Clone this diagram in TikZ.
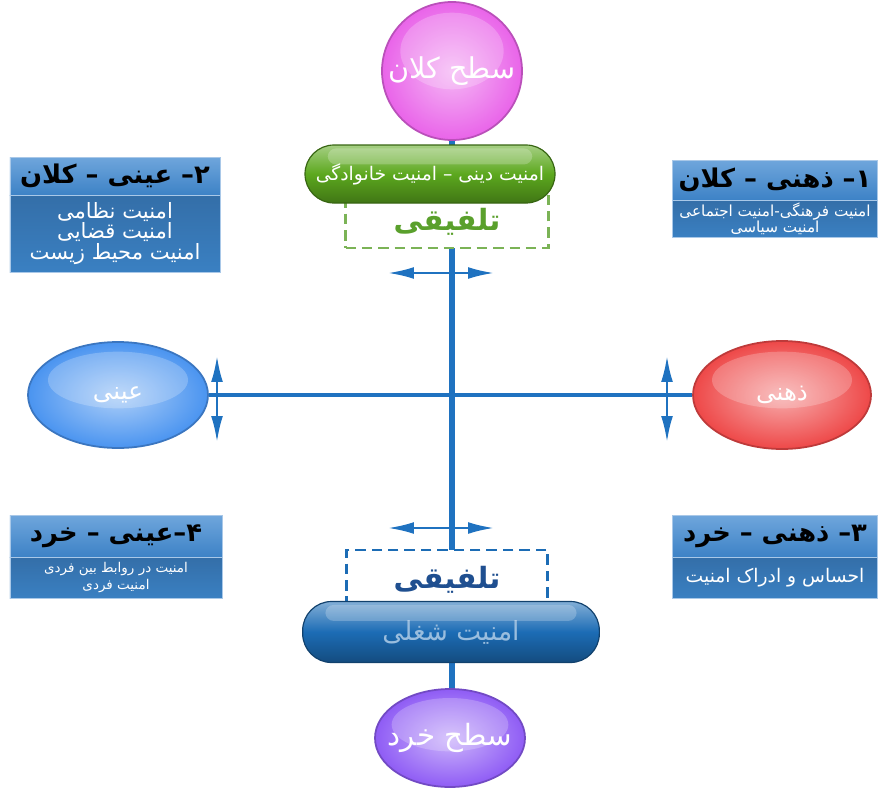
\documentclass[tikz,border=0pt]{standalone}
\usepackage{fontspec}
\usetikzlibrary{arrows.meta,shapes.geometric,positioning,backgrounds}
\newfontfamily\fa[Script=Arabic]{DejaVu Sans}
\TeXXeTstate=1
\newcommand\farsi[1]{\beginR #1\endR}
\definecolor{axisblue}{HTML}{1F72C0}
\definecolor{pinkb}{HTML}{E964E9}
\definecolor{purpleb}{HTML}{8F5CF5}
\definecolor{blueb}{HTML}{4A94F0}
\definecolor{redb}{HTML}{EE4848}
\definecolor{greenp}{HTML}{5CA81E}
\definecolor{bluep}{HTML}{1C6CB5}
\definecolor{greent}{HTML}{5AA02C}
\definecolor{bluet}{HTML}{1F4F90}
\definecolor{boxtop}{HTML}{6FA6DC}
\definecolor{boxmid}{HTML}{3D82C6}
\definecolor{boxlow}{HTML}{3A80C2}
\definecolor{boxedge}{HTML}{A9C8E8}
\begin{document}
\begin{tikzpicture}[x=0.03cm,y=-0.03cm,font=\fa,
  bubble/.style={ellipse,inner sep=0pt,draw=#1!80!black,line width=1.5pt,inner color=#1!45!white,outer color=#1},
  bubbletext/.style={text=white,font=\fa\fontsize{#1}{#1}\selectfont},
  pill/.style={rectangle,rounded corners=0.87cm,draw=#1!60!black,line width=1pt,top color=#1!55!white,bottom color=#1!70!black,middle color=#1,inner sep=0pt},
  fusebox/.style={rectangle,draw=#1,fill=white,line width=2.2pt,dash pattern=on 9pt off 5pt,font=\fa\bfseries\fontsize{25}{30}\selectfont},
  band/.style={rectangle,inner sep=0pt,outer sep=0pt,draw=boxedge,line width=.8pt,top color=boxtop,bottom color=boxmid,font=\fa\bfseries\fontsize{22}{26}\selectfont},
  panel/.style={rectangle,inner sep=0pt,outer sep=0pt,draw=boxedge,line width=.8pt,top color=boxmid!85!black,bottom color=boxlow,text=white,align=center},
  twoway/.style={{Latex[length=22pt,width=10pt]}-{Latex[length=22pt,width=10pt]},draw=axisblue,line width=2pt},
  axis/.style={draw=axisblue,line width=#1},
  shine/.style={white,opacity=.22}]
\useasboundingbox (0,0) rectangle (878,787);

\node[bubble=pinkb,minimum width=4.2cm,minimum height=4.14cm,label={[bubbletext=24.5]center:{\beginR سطح کلان\endR}}] (kalan) at (452,71) {};
\node[bubble=purpleb,minimum width=4.5cm,minimum height=2.94cm,label={[bubbletext=25]center:{\beginR سطح خرد\endR}}] (khord) at (450,738) {};
\node[bubble=blueb,minimum width=5.4cm,minimum height=3.18cm,label={[bubbletext=21]center:{\beginR عینی\endR}}] (ayni) at (118,395) {};
\node[bubble=redb,minimum width=5.34cm,minimum height=3.24cm,label={[bubbletext=21]center:{\beginR ذهنی\endR}}] (zehni) at (782,395) {};
\foreach \b/\rx/\ry/\up in {kalan/1.55/1.15/0.6,khord/1.75/0.8/0.4,ayni/2.1/0.85/0.45,zehni/2.1/0.85/0.45}
  \fill[shine] ([yshift=\up cm]\b.center) ellipse [x radius=\rx cm,y radius=\ry cm];

\node[fusebox=greent!80!white,minimum width=6.09cm,minimum height=1.56cm,text=greent] (tal1) at (447,222) {\farsi{تلفیقی}};
\node[pill=greenp,minimum width=7.5cm,minimum height=1.74cm,text=white,font=\fa\fontsize{16}{20}\selectfont] (dini) at (430,174) {\farsi{امنیت دینی – امنیت خانوادگی}};
\fill[shine,rounded corners=0.25cm] ([xshift=0.7cm,yshift=-0.12cm]dini.north west) rectangle ([xshift=-0.7cm,yshift=-0.6cm]dini.north east);

\node[fusebox=bluep,minimum width=6.03cm,minimum height=1.8cm,text=bluet] (tal2) at (447,580) {\farsi{تلفیقی}};
\node[pill=bluep,minimum width=8.9cm,minimum height=1.83cm,text=bluep!45!white,font=\fa\fontsize{22.5}{26}\selectfont] (shoghl) at (451,632) {\farsi{امنیت شغلی}};
\fill[shine,rounded corners=0.25cm] ([xshift=0.7cm,yshift=-0.12cm]shoghl.north west) rectangle ([xshift=-0.7cm,yshift=-0.6cm]shoghl.north east);

\node[band,minimum width=6.3cm,minimum height=1.14cm] (t2) at (115,176) {\farsi{۲– عینی – کلان}};
\node[panel,minimum width=6.3cm,minimum height=2.31cm,below=0pt of t2,font=\fa\fontsize{18}{15}\selectfont] (b2) {\farsi{امنیت نظامی}\\\farsi{امنیت قضایی}\\\farsi{امنیت محیط زیست}};
\node[band,minimum width=6.15cm,minimum height=1.2cm] (t1) at (775,180) {\farsi{۱– ذهنی – کلان}};
\node[panel,minimum width=6.15cm,minimum height=1.11cm,below=0pt of t1,font=\fa\fontsize{13}{14}\selectfont] (b1) {\farsi{امنیت فرهنگی-امنیت اجتماعی}\\\farsi{امنیت سیاسی}};
\node[band,minimum width=6.36cm,minimum height=1.26cm] (t4) at (116,536) {\farsi{۴–عینی – خرد}};
\node[panel,minimum width=6.36cm,minimum height=1.23cm,below=0pt of t4,font=\fa\fontsize{11.5}{14}\selectfont] (b4) {\farsi{امنیت در روابط بین فردی}\\\farsi{امنیت فردی}};
\node[band,minimum width=6.15cm,minimum height=1.26cm] (t3) at (775,536) {\farsi{۳– ذهنی – خرد}};
\node[panel,minimum width=6.15cm,minimum height=1.23cm,below=0pt of t3,font=\fa\fontsize{16}{18}\selectfont] (b3) {\farsi{احساس و ادراک امنیت}};

\coordinate (n1) at (388,273);
\coordinate (n2) at (494,273);
\coordinate (s1) at (388,528);
\coordinate (s2) at (494,528);
\coordinate (w1) at (217,356);
\coordinate (w2) at (217,442);
\coordinate (e1) at (667,356);
\coordinate (e2) at (667,442);
\draw[twoway] (n1) -- (n2);
\draw[twoway] (s1) -- (s2);
\draw[twoway] (w1) -- (w2);
\draw[twoway] (e1) -- (e2);

\begin{scope}[on background layer]
\draw[axis=5pt] (kalan.south) -- (kalan.south |- khord.north);
\draw[axis=3.6pt] (ayni.east) -- (zehni.west);
\end{scope}
\end{tikzpicture}
\end{document}
